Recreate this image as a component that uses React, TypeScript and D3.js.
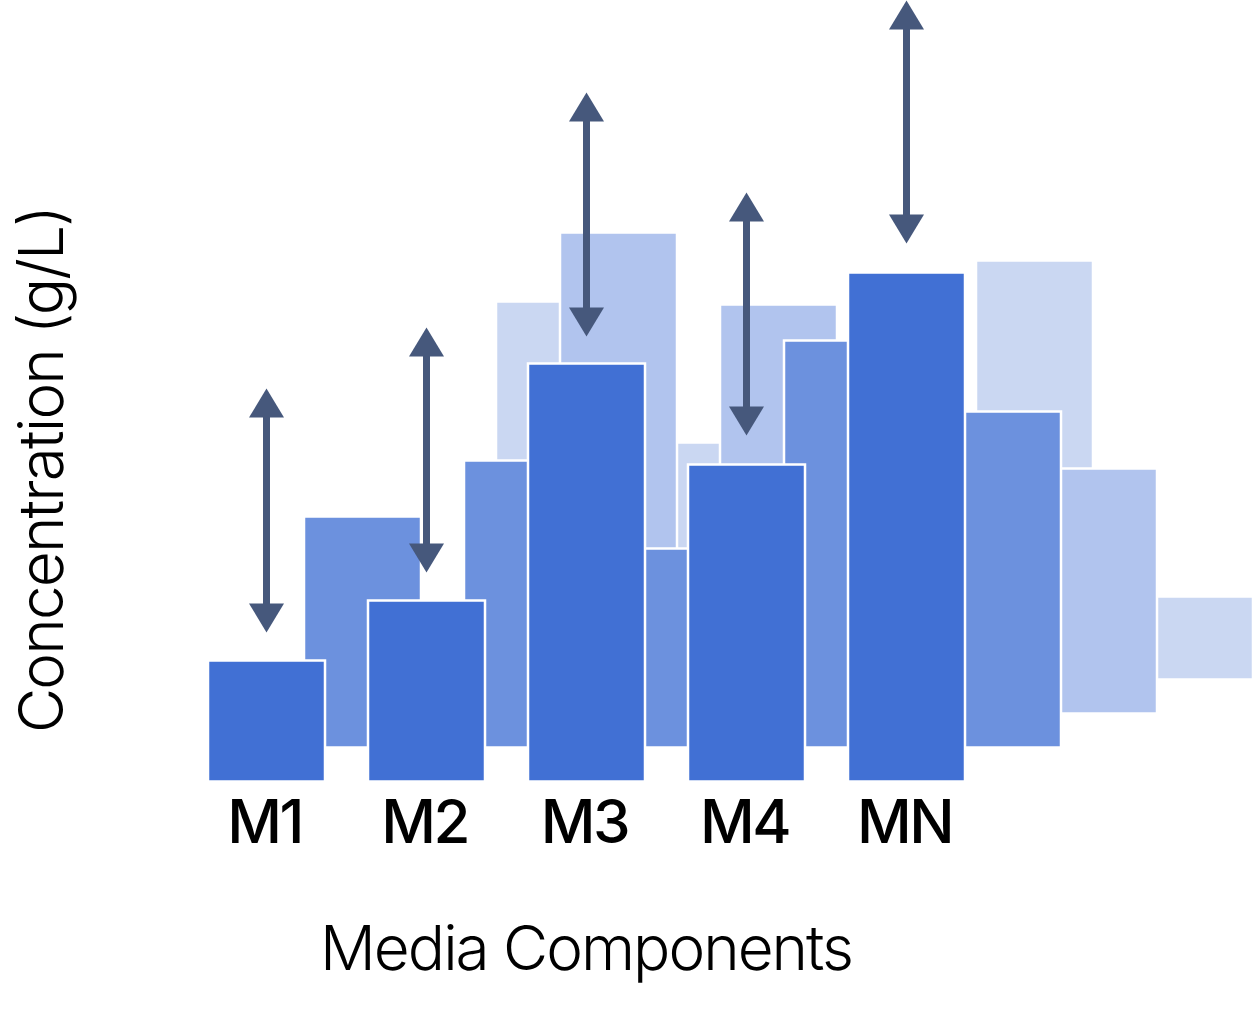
import * as d3 from 'd3';

const categories = ['M1', 'M2', 'M3', 'M4', 'MN'];

// concentration per depth row, front row first (0 = not visible)
const row1 = [2.42, 3.62, 8.36, 6.34, 10.18];
const row2 = [4.62, 5.74, 3.98, 8.14, 6.72];
const row3 = [0, 9.62, 8.18, 0, 4.9];
const row4 = [7.56, 4.74, 0, 8.38, 1.66];
const rows = [row1, row2, row3, row4];
const rowColors = ['#4170d4', '#6c91de', '#b1c4ee', '#cad7f2'];

// double arrows: low / high end in g/L
const arrowLow = [2.98, 4.18, 8.9, 6.92, 10.76];
const arrowHigh = [7.86, 9.08, 13.78, 11.78, 15.62];

const W = 1254;
const H = 1010;
const FONT = 'Inter, "Noto Sans", sans-serif';

export default function App() {
  const x = d3.scaleBand().domain(categories).range([208, 965]).paddingInner(0.26875).paddingOuter(0);
  const y = d3.scaleLinear().domain([0, 10]).range([781.5, 281.5]);
  const depthX = d3.scaleLinear().domain([0, 3]).range([0, 288]);
  const depthY = d3.scaleLinear().domain([0, 3]).range([0, -102]);
  const bw = x.bandwidth();

  const head = 29;
  const halfBase = 17.5;

  return (
    <div style={{ position: 'absolute', left: 0, top: 0 }}>
      <svg width={W} height={H} style={{ display: 'block', background: '#fff' }}>
        {rows
          .map((vals, r) => ({ vals, r }))
          .reverse()
          .map(({ vals, r }) => (
            <g key={r} transform={`translate(${depthX(r)},${depthY(r)})`}>
              {vals.map((v, i) =>
                v > 0 ? (
                  <rect
                    key={categories[i]}
                    x={x(categories[i])!}
                    y={y(v)}
                    width={bw}
                    height={y(0) - y(v)}
                    fill={rowColors[r]}
                    stroke="#fff"
                    strokeWidth={2.5}
                  />
                ) : null
              )}
            </g>
          ))}

        {categories.map((c, i) => {
          const cx = x(c)! + bw / 2;
          const top = y(arrowHigh[i]);
          const bot = y(arrowLow[i]);
          return (
            <g key={c} fill="#46587c">
              <rect x={cx - 3.5} y={top + head - 1} width={7} height={bot - top - 2 * head + 2} />
              <path d={`M${cx},${top}L${cx + halfBase},${top + head}L${cx - halfBase},${top + head}Z`} />
              <path d={`M${cx},${bot}L${cx + halfBase},${bot - head}L${cx - halfBase},${bot - head}Z`} />
            </g>
          );
        })}

        {categories.map((c) => (
          <text
            key={c}
            x={x(c)! + bw / 2 - 2}
            y={843}
            textAnchor="middle"
            fontFamily={FONT}
            fontWeight={500}
            fontSize={60}
            letterSpacing={-2.5}
            fill="#000"
          >
            {c}
          </text>
        ))}

        <text x={586} y={970} textAnchor="middle" fontFamily={FONT} fontWeight={300} fontSize={62} letterSpacing={-2} fill="#000">
          Media Components
        </text>
        <text
          transform="translate(63,470) rotate(-90)"
          textAnchor="middle"
          fontFamily={FONT}
          fontWeight={300}
          fontSize={62}
          letterSpacing={-1.8}
          fill="#000"
        >
          Concentration (g/L)
        </text>
      </svg>
    </div>
  );
}
